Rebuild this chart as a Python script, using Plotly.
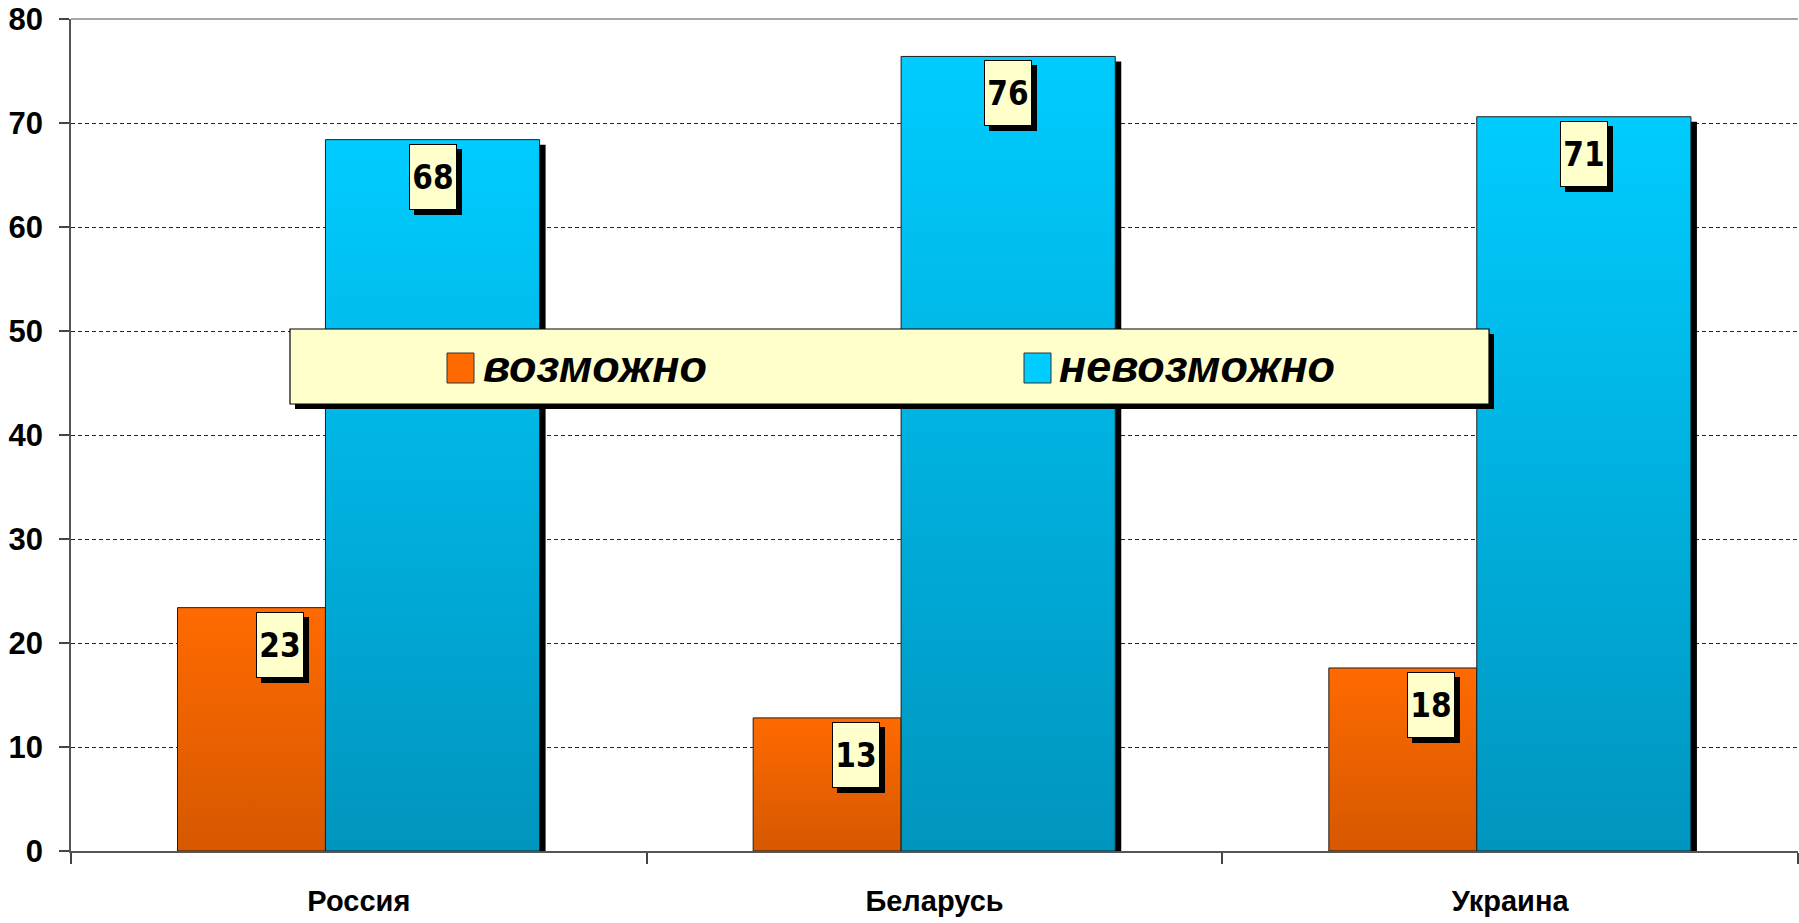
import plotly.graph_objects as go

# ---------------- data ----------------
categories = ["Россия", "Беларусь", "Украина"]
series_names = ["возможно", "невозможно"]
possible = [23.4, 12.8, 17.6]
impossible = [68.4, 76.4, 70.6]
y_tick_values = [0, 10, 20, 30, 40, 50, 60, 70, 80]

# ---------------- styling ----------------
ORANGE_TOP, ORANGE_BOTTOM = "#FF6A00", "#D65800"
BLUE_TOP, BLUE_BOTTOM = "#00CCFF", "#0095BE"
LABEL_BG = "#FFFFCC"
OUTLINE = "#1E1E1E"

W, H = 1799, 923
M_L, M_R, M_T, M_B = 71, 1, 19, 72
PW = W - M_L - M_R
PH = H - M_T - M_B
CAT_PX = PW / 3.0          # pixels per category
UNIT_PX = PH / 80.0        # pixels per y unit

ORANGE_OFFSET, ORANGE_WIDTH = -0.315, 0.257
BLUE_OFFSET, BLUE_WIDTH = -0.058, 0.372
ORANGE_LABEL_X = -0.137
SHADOW_DX_PX, SHADOW_DY_PX = 6, 5

FONT = "Liberation Sans, Arial, sans-serif"
NARROW = "Liberation Sans Narrow, Arial Narrow, DejaVu Sans Condensed, Liberation Sans, sans-serif"


def px_x(px):
    return (px - M_L) / PW


def px_y(py):
    return (H - M_B - py) / PH


fig = go.Figure()


def add_shadow(i, off, w, v):
    x0, x1 = i + off, i + off + w
    dx = SHADOW_DX_PX / CAT_PX
    dy = SHADOW_DY_PX / UNIT_PX
    fig.add_trace(go.Scatter(
        x=[x0 + dx, x1 + dx, x1 + dx, x0 + dx, x0 + dx],
        y=[0, 0, v - dy, v - dy, 0],
        mode="lines", fill="toself", fillcolor="#000000",
        line=dict(color="#000000", width=0), hoverinfo="skip", showlegend=False,
    ))


def draw_bar(i, off, w, v, top, bottom, name):
    x0, x1 = i + off, i + off + w
    fig.add_trace(go.Scatter(
        x=[x0, x1, x1, x0, x0],
        y=[0, 0, v, v, 0],
        mode="lines", fill="toself",
        fillgradient=dict(type="vertical", colorscale=[[0, bottom], [1, top]], start=0, stop=v),
        line=dict(color=OUTLINE, width=1),
        name=name, hoverinfo="skip", showlegend=False,
    ))


# shadows first (behind)
for i, v in enumerate(possible):
    add_shadow(i, ORANGE_OFFSET, ORANGE_WIDTH, v)
for i, v in enumerate(impossible):
    add_shadow(i, BLUE_OFFSET, BLUE_WIDTH, v)
# bars
for i, v in enumerate(possible):
    draw_bar(i, ORANGE_OFFSET, ORANGE_WIDTH, v, ORANGE_TOP, ORANGE_BOTTOM, series_names[0])
for i, v in enumerate(impossible):
    draw_bar(i, BLUE_OFFSET, BLUE_WIDTH, v, BLUE_TOP, BLUE_BOTTOM, series_names[1])

# ---------------- data labels ----------------
annotations = []


def add_label(x, v):
    common = dict(x=x, y=v, xref="x", yref="y", yanchor="top", xanchor="center",
                  showarrow=False, width=42, height=60, borderpad=2, borderwidth=1)
    annotations.append(dict(common, text="&nbsp;", bgcolor="#000000", bordercolor="#000000",
                            xshift=5, yshift=-9))
    annotations.append(dict(common, text=f"{v:.0f}", bgcolor=LABEL_BG, bordercolor="#000000",
                            yshift=-4,
                            font=dict(family=NARROW, size=33, color="#000000", weight="bold")))


for i, v in enumerate(possible):
    add_label(i + ORANGE_LABEL_X, v)
for i, v in enumerate(impossible):
    add_label(i + BLUE_OFFSET + BLUE_WIDTH / 2, v)

# ---------------- custom legend ----------------
LEG_X0, LEG_X1, LEG_Y0, LEG_Y1 = 290, 1489, 329, 404
shapes = []
shapes.append(dict(type="rect", xref="paper", yref="paper", layer="above",
                   x0=px_x(LEG_X0 + 5), x1=px_x(LEG_X1 + 5), y0=px_y(LEG_Y1 + 5), y1=px_y(LEG_Y0 + 5),
                   fillcolor="#000000", line=dict(width=0)))
shapes.append(dict(type="rect", xref="paper", yref="paper", layer="above",
                   x0=px_x(LEG_X0), x1=px_x(LEG_X1), y0=px_y(LEG_Y1), y1=px_y(LEG_Y0),
                   fillcolor=LABEL_BG, line=dict(color="#000000", width=1.2)))

legend_items = [
    (series_names[0], ORANGE_TOP, 447, 481),
    (series_names[1], BLUE_TOP, 1024, 1057),
]
for name, color, sx, tx in legend_items:
    shapes.append(dict(type="rect", xref="paper", yref="paper", layer="above",
                       x0=px_x(sx), x1=px_x(sx + 27), y0=px_y(383), y1=px_y(353),
                       fillcolor=color, line=dict(color="#333333", width=1)))
    annotations.append(dict(x=px_x(tx), y=px_y(367), xref="paper", yref="paper",
                            xanchor="left", yanchor="middle", showarrow=False,
                            text=f"<b><i>{name}</i></b>",
                            font=dict(family=FONT, size=45, color="#000000")))

# top border of the plot area
shapes.append(dict(type="line", xref="paper", yref="paper", layer="above",
                   x0=0, x1=1, y0=1, y1=1, line=dict(color="#8A8A8A", width=1.5)))

fig.update_layout(
    width=W, height=H,
    margin=dict(l=M_L, r=M_R, t=M_T, b=M_B),
    paper_bgcolor="white", plot_bgcolor="white",
    showlegend=False,
    shapes=shapes, annotations=annotations,
    xaxis=dict(
        range=[-0.5, 2.5], tickmode="array", tickvals=list(range(len(categories))), ticktext=categories,
        ticks="", showline=True, linecolor="#555555", linewidth=1.5, showgrid=False, zeroline=False,
        tickfont=dict(family=FONT, size=29, color="#000000", weight="bold"),
        ticklabelstandoff=23,
        minor=dict(tickmode="array", tickvals=[-0.5, 0.5, 1.5, 2.5], ticks="outside",
                   ticklen=11, tickwidth=1.5, tickcolor="#444444", showgrid=False),
        fixedrange=True,
    ),
    yaxis=dict(
        range=[0, 80], tickmode="array", tickvals=y_tick_values,
        ticks="outside", ticklen=10, tickwidth=1.5, tickcolor="#444444",
        showline=True, linecolor="#555555", linewidth=1.5,
        showgrid=True, gridcolor="#262626", gridwidth=1.3, griddash="4px,3px", zeroline=False,
        tickfont=dict(family=FONT, size=31, color="#000000", weight="bold"),
        ticklabelstandoff=10,
        fixedrange=True,
    ),
)

fig.write_html("out.html", config={"displayModeBar": False},
               post_script="document.body.style.margin='0';")
